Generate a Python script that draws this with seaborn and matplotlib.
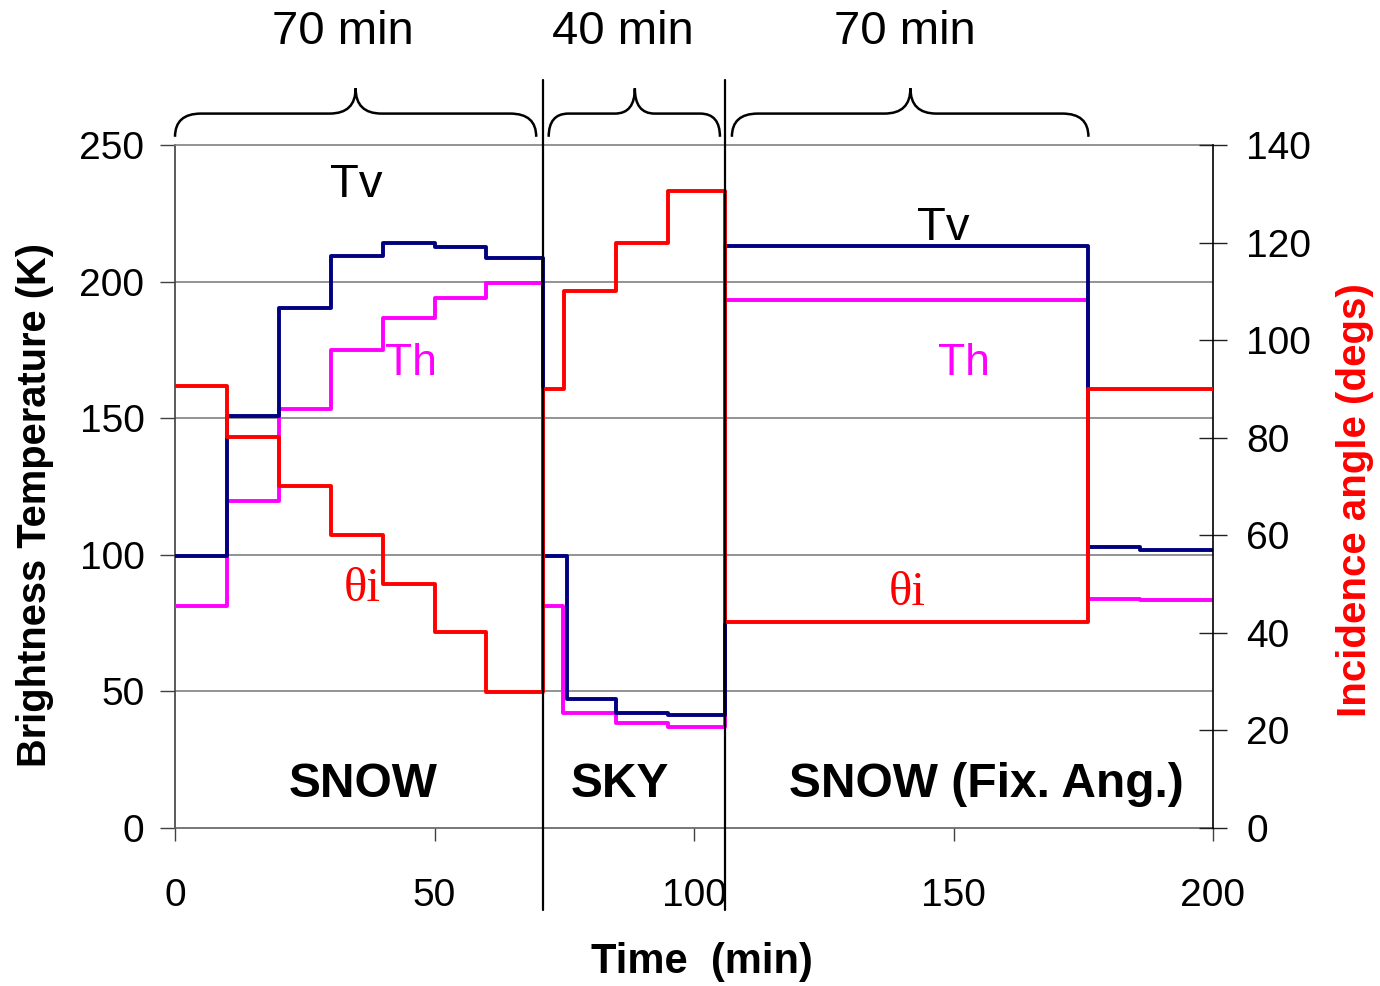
import numpy as np
import pandas as pd
import seaborn as sns
import matplotlib.pyplot as plt
from matplotlib.path import Path
from matplotlib.patches import PathPatch
from matplotlib.transforms import blended_transform_factory

# ---------------- data ----------------
t_tv = [0, 10, 20, 30, 40, 50, 60, 71, 75.5, 85, 95, 106, 176, 186, 200]
tv = [99.5, 150.8, 190.5, 209.3, 214.3, 212.5, 208.8, 99.5, 47.2, 42.2, 41.3, 213.2, 102.8, 101.8, 101.8]

t_th = [0, 10, 20, 30, 40, 50, 60, 71, 74.8, 85, 95, 106, 176, 186, 200]
th = [81.3, 119.8, 153.5, 175.0, 186.8, 194.0, 199.5, 81.3, 42.0, 38.3, 37.1, 193.3, 83.9, 83.3, 83.3]

t_ang = [0, 10, 20, 30, 40, 50, 60, 71, 75, 85, 95, 106, 176, 200]
ang = [90.5, 80.2, 70.0, 60.0, 50.0, 40.2, 27.8, 90.0, 110.0, 120.0, 130.5, 42.2, 90.0, 90.0]

phase_bounds = [70.9, 106]
braces = [(0, 34.8, 69.6), (72, 88.6, 105), (107.3, 141.7, 176)]
brace_labels = ["70 min", "40 min", "70 min"]
brace_label_x = [32.3, 86.3, 140.7]
phase_names = ["SNOW", "SKY", "SNOW (Fix. Ang.)"]
phase_name_x = [36.3, 85.8, 156.3]

left_ticks = [0, 50, 100, 150, 200, 250]
right_ticks = [0, 20, 40, 60, 80, 100, 120, 140]
x_ticks = [0, 50, 100, 150, 200]

# ---------------- style ----------------
sns.set_theme(style="white")
plt.rcParams['font.family'] = ['Liberation Sans', 'DejaVu Sans']
plt.rcParams['text.color'] = 'black'
plt.rcParams['axes.labelcolor'] = 'black'
plt.rcParams['xtick.color'] = 'black'
plt.rcParams['ytick.color'] = 'black'

fig = plt.figure(figsize=(13.8, 9.86), dpi=100)
ax = fig.add_axes([175 / 1380, 158 / 986, 1038 / 1380, 683 / 986])
ax2 = ax.twinx()

NAVY = "#000080"
MAG = "#FF00FF"
RED = "#FF0000"

df_tv = pd.DataFrame({"t": t_tv, "v": tv})
df_th = pd.DataFrame({"t": t_th, "v": th})
df_an = pd.DataFrame({"t": t_ang, "v": ang})

LW = 2.8
sns.lineplot(data=df_tv, x="t", y="v", ax=ax, color=NAVY, lw=LW, drawstyle="steps-post", zorder=4)
sns.lineplot(data=df_th, x="t", y="v", ax=ax, color=MAG, lw=LW, drawstyle="steps-post", zorder=3)
sns.lineplot(data=df_an, x="t", y="v", ax=ax2, color=RED, lw=LW, drawstyle="steps-post", zorder=5)

ax.set_xlim(0, 200)
ax.set_ylim(0, 250)
ax2.set_ylim(0, 140)

ax.set_xticks(x_ticks)
ax.set_yticks(left_ticks)
ax2.set_yticks(right_ticks)
ax.set_xticklabels([str(v) for v in x_ticks])
ax.set_yticklabels([str(v) for v in left_ticks])
ax2.set_yticklabels([str(v) for v in right_ticks])

ax.grid(False)
ax2.grid(False)
for v in [50, 100, 150, 200]:
    ax.axhline(v, color="#808080", lw=1.2, zorder=1)

ax.tick_params(axis="y", direction="out", length=11, width=1, color="#404040",
               labelcolor="black", labelsize=28, pad=11, left=True)
ax.tick_params(axis="x", direction="out", length=9, width=1, color="#404040",
               labelcolor="black", labelsize=28, pad=27, bottom=True)
ax2.tick_params(axis="y", direction="inout", length=20, width=1, color="#202020",
                labelcolor="black", labelsize=28, pad=14, right=True)

ax.spines["left"].set_color("#404040")
ax.spines["bottom"].set_color("#606060")
ax.spines["top"].set_color("#808080")
ax.spines["right"].set_visible(False)
ax2.spines["left"].set_visible(False)
ax2.spines["top"].set_visible(False)
ax2.spines["bottom"].set_visible(False)
ax2.spines["right"].set_color("black")
for sp in list(ax.spines.values()) + list(ax2.spines.values()):
    sp.set_linewidth(1.2)

ax.set_xlabel("Time  (min)", fontsize=30, fontweight="bold", color="black")
ax.xaxis.set_label_coords(0.508, -0.196)
ax.xaxis.label.set_va("center")
ax.set_ylabel("Brightness Temperature (K)", fontsize=28.7, fontweight="bold", color="black")
ax.yaxis.set_label_coords(-0.1349, 0.473)
ax.yaxis.label.set_va("center")
ax2.set_ylabel("Incidence angle (degs)", fontsize=29, fontweight="bold", color=RED)
ax2.yaxis.set_label_coords(1.1368, 0.480)
ax2.yaxis.label.set_va("center")

# phase boundary lines
bt = blended_transform_factory(ax.transData, ax.transAxes)
for xb in phase_bounds:
    ax2.plot([xb, xb], [-0.12, 1.095], color="black", lw=1.6, transform=bt, clip_on=False, zorder=6)

# braces
def brace(x0, xm, x1, w, ye=1.012, yh=1.046, yt=1.083):
    verts = [(x0, ye), (x0, yh), (x0 + w, yh), (xm - w, yh), (xm, yh), (xm, yt),
             (xm, yh), (xm + w, yh), (x1 - w, yh), (x1, yh), (x1, ye)]
    codes = [Path.MOVETO, Path.CURVE3, Path.CURVE3, Path.LINETO, Path.CURVE3, Path.CURVE3,
             Path.CURVE3, Path.CURVE3, Path.LINETO, Path.CURVE3, Path.CURVE3]
    p = PathPatch(Path(verts, codes), fill=False, lw=1.8, ec="black", transform=bt, clip_on=False)
    ax2.add_patch(p)

for (x0, xm, x1), lab, lx in zip(braces, brace_labels, brace_label_x):
    w = 5.0 if (x1 - x0) > 50 else 3.8
    brace(x0, xm, x1, w)
    ax2.text(lx, 1.165, lab, transform=bt, ha="center", va="center", fontsize=34,
             color="black", clip_on=False)

# phase names
for xn, nm in zip(phase_name_x, phase_names):
    ax.text(xn, 16.0, nm, ha="center", va="center", fontsize=34.5, fontweight="bold",
            color="black", zorder=7)

# series labels
ax.text(35, 235.5, "Tv", ha="center", va="center", fontsize=34, color="black", zorder=7)
ax.text(148, 219.5, "Tv", ha="center", va="center", fontsize=34, color="black", zorder=7)
ax.text(45.5, 170, "Th", ha="center", va="center", fontsize=32, color=MAG, zorder=7)
ax.text(152, 170, "Th", ha="center", va="center", fontsize=32, color=MAG, zorder=7)
ax.text(36, 87.5, "θi", ha="center", va="center", fontsize=35, color=RED,
        family=["Liberation Serif", "DejaVu Serif"], zorder=7)
ax.text(141, 86, "θi", ha="center", va="center", fontsize=35, color=RED,
        family=["Liberation Serif", "DejaVu Serif"], zorder=7)

fig.savefig("out.png", dpi=100, facecolor="white")
